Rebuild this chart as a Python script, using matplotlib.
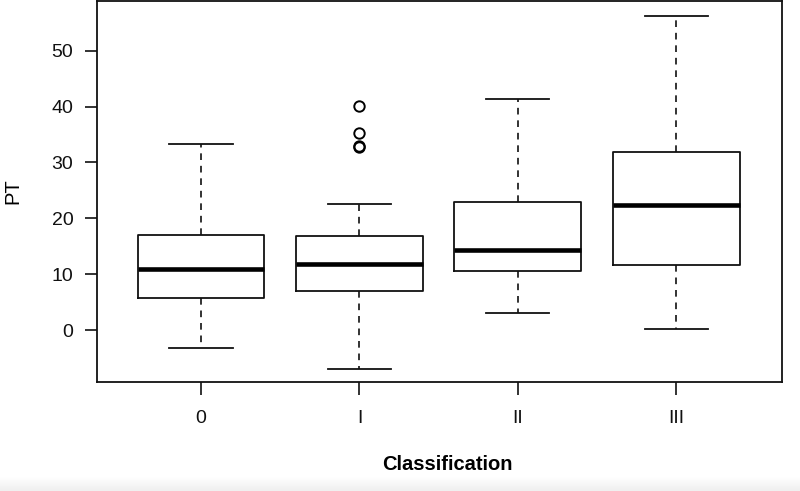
import matplotlib
matplotlib.use("Agg")
import matplotlib.pyplot as plt
from matplotlib.patches import Rectangle
import numpy as np

categories = ["0", "I", "II", "III"]
whisker_low = [-3.3, -6.9, 3.1, 0.1]
q1 = [5.8, 6.9, 10.5, 11.7]
medians = [10.9, 11.9, 14.4, 22.4]
q3 = [17.1, 16.9, 22.85, 31.8]
whisker_high = [33.3, 22.55, 41.4, 56.3]
outliers = [[], [40.1, 35.2, 33.0, 32.8], [], []]
y_ticks = [0, 10, 20, 30, 40, 50]

plt.rcParams['font.family'] = ['Liberation Sans', 'DejaVu Sans']

fig = plt.figure(figsize=(8, 4.91), dpi=100)
# light gray screenshot band at bottom
for i, a in enumerate(np.linspace(0, 1, 14)):
    fig.patches.append(Rectangle((0, (13 - i) / 491), 1, 1 / 491, transform=fig.transFigure,
                                 color=(1 - 0.06 * a,) * 3, zorder=-10))

ax = fig.add_axes([97 / 800, 1 - 382 / 491, (782 - 97) / 800, (382 - 1) / 491])

stats = []
for i, c in enumerate(categories):
    stats.append(dict(label=c, whislo=whisker_low[i], q1=q1[i], med=medians[i],
                      q3=q3[i], whishi=whisker_high[i], fliers=outliers[i]))

positions = np.arange(1, len(categories) + 1)
ax.bxp(stats, positions=positions, widths=0.8, showfliers=True,
       boxprops=dict(color='#111111', linewidth=1.3),
       medianprops=dict(color='black', linewidth=3.3, solid_capstyle='butt'),
       whiskerprops=dict(color='#111111', linewidth=1.2, linestyle=(0, (4, 3.5))),
       capprops=dict(color='#111111', linewidth=1.3),
       capwidths=0.4,
       flierprops=dict(marker='o', markersize=7.5, markerfacecolor='none',
                       markeredgecolor='black', markeredgewidth=1.4))

ax.set_xlim(0.343, 4.668)
ax.set_ylim(-9.3, 58.9)
ax.set_yticks(y_ticks)
ax.set_yticklabels([str(v) for v in y_ticks])
ax.set_xticks(positions)
ax.set_xticklabels(categories)
ax.tick_params(axis='both', length=9, width=1.2, labelsize=14, pad=8, colors='#111111')
ax.tick_params(axis='x', pad=11)
for s in ax.spines.values():
    s.set_linewidth(1.3)
    s.set_color('#111111')

fig.text(13 / 800, 1 - 191 / 491, "PT", rotation=90, fontsize=14.5, ha='center', va='center')
fig.text(447 / 800, 1 - 465 / 491, "Classification", fontsize=14.5, fontweight='bold',
         ha='center', va='center')

fig.savefig("out.png", dpi=100)
